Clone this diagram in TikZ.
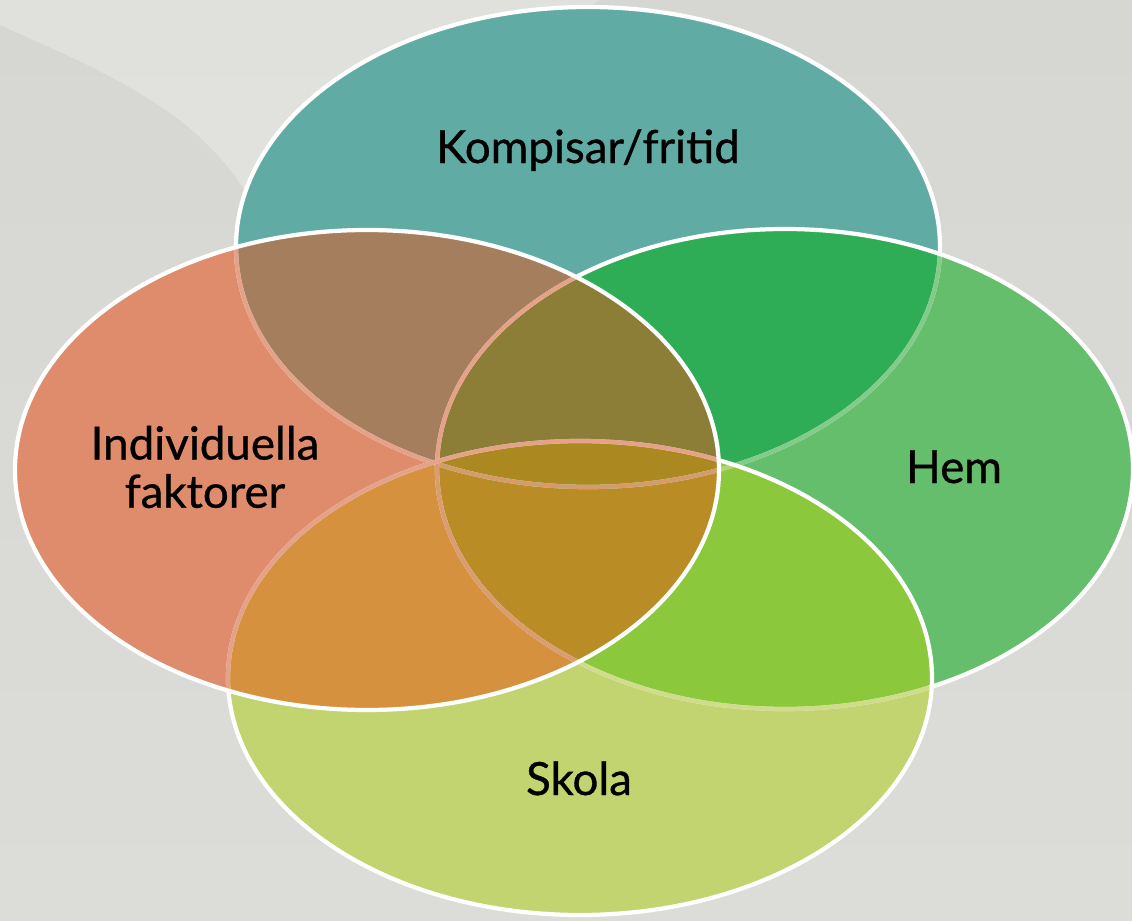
\documentclass[tikz,border=0pt]{standalone}
\usepackage{fontspec}
\setmainfont{Lato}
\newfontfamily\etfont{Lato}[FakeBold = 0.7]
\usepackage{xcolor}
\definecolor{colK}{RGB}{96,172,165}
\definecolor{colI}{RGB}{222,140,108}
\definecolor{colH}{RGB}{100,190,108}
\definecolor{colS}{RGB}{194,212,112}
\definecolor{colKI}{RGB}{165,127,93}
\definecolor{colKH}{RGB}{46,172,86}
\definecolor{colIS}{RGB}{214,145,62}
\definecolor{colHS}{RGB}{140,200,60}
\definecolor{colKIH}{RGB}{140,125,55}
\definecolor{colIHS}{RGB}{185,140,38}
\definecolor{colTutti}{RGB}{172,136,32}
\definecolor{sfondoA}{RGB}{214,214,210}
\definecolor{sfondoM}{RGB}{198,198,194}
\definecolor{sfondoB}{RGB}{220,220,217}

\begin{document}
\begin{tikzpicture}[x = 0.01cm, y = -0.01cm,
    bordo/.style = {draw = white, line width = 1.2pt},
    etichetta/.style = {font = \etfont\fontsize{13}{13.7}\selectfont, text = black, inner sep = 0pt, align = center}]
    % Parametri
    \def\ellK{(588,247) ellipse [x radius = 352, y radius = 240]}
    \def\ellI{(367,470) ellipse [x radius = 352, y radius = 240]}
    \def\ellH{(785,469) ellipse [x radius = 348, y radius = 240]}
    \def\ellS{(580,678) ellipse [x radius = 352, y radius = 237]}
    \pgfmathsetmacro{\tinta}{0.8}
    % Sfondo
    \useasboundingbox (0,0) rectangle (1132,921);
    \shade[top color = sfondoA, middle color = sfondoM, bottom color = sfondoB] (0,0) rectangle (1132,921);
    \fill[white, opacity = 0.25] (0,0) -- (600,0) -- (250,200) .. controls (200,110) and (100,70) .. (0,25) -- cycle;
    % Ellissi
    \fill[colK] \ellK;
    \fill[colH] \ellH;
    \fill[colS] \ellS;
    \fill[colI] \ellI;
    % Intersezioni
    \begin{scope}
        \clip \ellK;
        \fill[colKI] \ellI;
        \fill[colKH] \ellH;
    \end{scope}
    \begin{scope}
        \clip \ellS;
        \fill[colIS] \ellI;
        \fill[colHS] \ellH;
    \end{scope}
    \begin{scope}
        \clip \ellI;
        \clip \ellH;
        \fill[colKIH] (0,0) rectangle (1132,921);
        \fill[colKIH] \ellK;
        \fill[colIHS] \ellS;
        \clip \ellK;
        \fill[colTutti] \ellS;
    \end{scope}
    % Bordi
    \draw[bordo] \ellK;
    \foreach \c/\e in {colH/\ellH, colS/\ellS, colI/\ellI} {
        \begin{scope}
            \clip \e;
            \draw[bordo, draw = \c, draw opacity = \tinta] \ellK;
        \end{scope}
    };
    \draw[bordo] \ellH;
    \foreach \c/\e in {colS/\ellS, colI/\ellI} {
        \begin{scope}
            \clip \e;
            \draw[bordo, draw = \c, draw opacity = \tinta] \ellH;
        \end{scope}
    };
    \draw[bordo] \ellS;
    \begin{scope}
        \clip \ellI;
        \draw[bordo, draw = colI, draw opacity = \tinta] \ellS;
    \end{scope}
    \draw[bordo] \ellI;
    % Etichette
    \node[etichetta, anchor = base] (kompisar) at (588,163) {Kompisar/fritid};
    \node[etichetta] (individ) at (205,467) {Individuella\\faktorer};
    \node[etichetta, anchor = base] (hem) at (954,483) {Hem};
    \node[etichetta, anchor = base] (skola) at (579,795) {Skola};
\end{tikzpicture}
\end{document}
